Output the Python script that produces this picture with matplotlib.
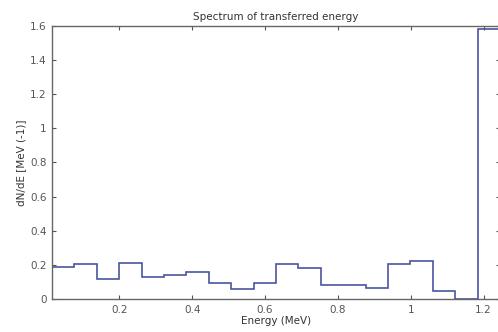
import numpy as np
import matplotlib
matplotlib.use('Agg')
import matplotlib.pyplot as plt

plt.rcParams['font.family'] = ['DejaVu Sans']

# histogram of transferred energy, 20 bins
bin_lo = 0.015
bin_hi = 1.245
counts = [0.19, 0.205, 0.115, 0.21, 0.127, 0.14, 0.16, 0.092, 0.058, 0.092,
          0.205, 0.18, 0.08, 0.08, 0.063, 0.205, 0.225, 0.047, 0.0, 1.585]
xticks = [0.2, 0.4, 0.6, 0.8, 1.0, 1.2]
xticklabels = ['0.2', '0.4', '0.6', '0.8', '1', '1.2']
yticks = [0, 0.2, 0.4, 0.6, 0.8, 1.0, 1.2, 1.4, 1.6]
yticklabels = ['0', '0.2', '0.4', '0.6', '0.8', '1', '1.2', '1.4', '1.6']

edges = np.linspace(bin_lo, bin_hi, len(counts) + 1)

fig = plt.figure(figsize=(4.98, 3.32), dpi=100)
ax = fig.add_axes([0.1044, 0.0994, 0.8956 + 0.004, 0.8223])
ax.stairs(counts, edges, color='#4a55a0', linewidth=1.2)

ax.set_xlim(bin_lo, bin_hi)
ax.set_ylim(0, 1.6)
ax.set_xticks(xticks)
ax.set_xticklabels(xticklabels)
ax.set_yticks(yticks)
ax.set_yticklabels(yticklabels)
ax.tick_params(direction='in', top=True, right=True, labelsize=7.5,
               colors='#555555', length=3, width=0.8, pad=4)
for s in ax.spines.values():
    s.set_color('#666666')
    s.set_linewidth(1.0)

ax.set_title('Spectrum of transferred energy', fontsize=7.5, color='#333333', pad=4)
ax.set_xlabel('Energy (MeV)', fontsize=7.5, color='#333333', labelpad=1)
ax.set_ylabel('dN/dE [MeV (-1)]', fontsize=7.5, color='#333333', labelpad=3)

fig.savefig('out.png', dpi=100)
